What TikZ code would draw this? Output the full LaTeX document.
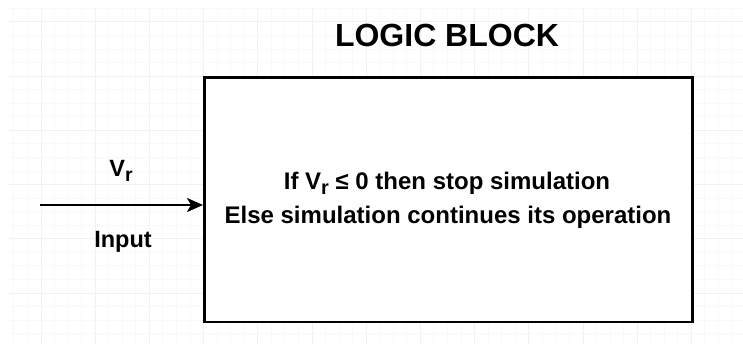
\documentclass[tikz,border=0pt]{standalone}
\usepackage{fontspec}
\setmainfont{Liberation Sans}
\usetikzlibrary{arrows.meta}
\newcommand\mysub[1]{\raisebox{-0.24em}{\scalebox{0.83}{#1}}}
\tikzset{
  minorgrid/.style={draw=gray!5, line width=1pt},
  majorgrid/.style={draw=gray!11, line width=1pt},
  blockbox/.style={draw=black, line width=2.6pt, fill=white},
  lbl/.style={anchor=base, inner sep=0pt, font=\bfseries\fontsize{24}{28}\selectfont},
  sidelbl/.style={anchor=base, inner sep=0pt, font=\bfseries\fontsize{23.5}{28}\selectfont},
  titlelbl/.style={anchor=base, inner sep=0pt, font=\bfseries\fontsize{32}{37}\selectfont},
  conn/.style={draw=black, line width=2.2pt, -{Stealth[length=16pt, width=14pt, inset=4pt]}}
}
\begin{document}
\begin{tikzpicture}[x=1pt, y=-1pt]
\useasboundingbox (0,0) rectangle (743,345);
% grid
\begin{scope}
\clip (9,8) rectangle (743,345);
\foreach \k in {-3,...,55} {
  \draw[minorgrid] ({41+13.55*\k},8) -- ({41+13.55*\k},345);
}
\foreach \k in {-1,...,25} {
  \draw[minorgrid] (9,{22+13.55*\k}) -- (743,{22+13.55*\k});
}
\foreach \k in {0,...,13} {
  \draw[majorgrid] ({41+54.2*\k},8) -- ({41+54.2*\k},345);
}
\foreach \k in {0,...,6} {
  \draw[majorgrid] (9,{22+54.2*\k}) -- (743,{22+54.2*\k});
}
\end{scope}
% block
\node[blockbox, minimum width=488pt, minimum height=244.5pt, inner sep=0pt, anchor=north west] (block) at (203,76) {};
\node[titlelbl] (title) at (447,47) {LOGIC BLOCK};
\node[lbl] (line1) at (447,189) {If V\mysub{r} ≤ 0 then stop simulation};
\node[lbl] (line2) at (448,223) {Else simulation continues its operation};
% input
\coordinate (start) at (40,205);
\draw[conn] (start) -- (block.west |- start);
\node[sidelbl] (vr) at (121,176) {V\mysub{r}};
\node[sidelbl] (input) at (123,247) {Input};
\end{tikzpicture}
\end{document}
